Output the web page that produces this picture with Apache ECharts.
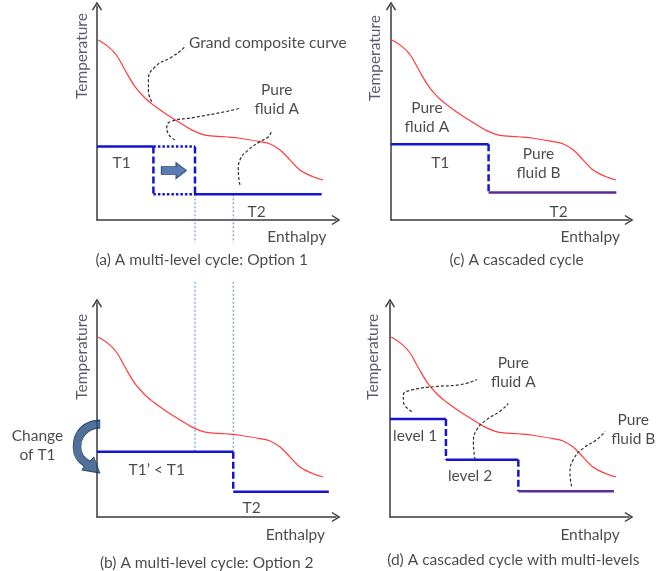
<!DOCTYPE html>
<html>
<head>
<meta charset="utf-8">
<script src="https://cdn.jsdelivr.net/npm/echarts@6/dist/echarts.min.js"></script>
<style>
html, body { margin: 0; padding: 0; background: #fff; }
#chart { width: 670px; height: 571px; }
</style>
</head>
<body>
<div id="chart"></div>
<script>
// Grand composite curve, shared by every panel: [enthalpy %, temperature %]
const gcc = [
  [0.5, 84.1], [4.7, 81.0], [8.1, 77.1], [11.7, 70.1], [15.9, 62.3], [20.1, 57.0],
  [23.6, 53.7], [28.5, 49.8], [34.0, 45.9], [39.6, 42.1], [45.2, 39.7], [53.6, 38.9],
  [59.8, 38.2], [68.2, 36.6], [72.4, 35.5], [76.6, 32.7], [80.8, 28.0], [84.9, 23.4],
  [90.4, 20.2], [94.6, 18.7]
];

// (a) multi-level cycle, option 1
const optA_T1 = [[0, 34.3], [23.6, 34.3]];
const optA_oldStep = [[23.6, 34.3], [23.6, 12.0]];
const optA_boxTop = [[23.6, 34.3], [41.0, 34.3]];
const optA_boxBottom = [[23.6, 12.0], [41.0, 12.0]];
const optA_newStep = [[41.0, 34.3], [41.0, 12.0]];
const optA_T2 = [[41.0, 12.0], [94.0, 12.0]];
const optA_shift = [[32.2, 23.1]];

// (b) multi-level cycle, option 2
const optB_T1 = [[0, 30.5], [57.0, 30.5]];
const optB_step = [[57.0, 30.5], [57.0, 11.8]];
const optB_T2 = [[57.0, 11.8], [97.0, 11.8]];
const optB_turn = [[-4.4, 32.9]];

// guides dropped from (a) to (b): enthalpy positions, and where each piece stops
// around caption (a)
const guideEnthalpy = [41.0, 57.0];
const guideEndA = -10.7;   // temperature units of panel (a)
const guideEndB = 109.8;   // temperature units of panel (b)

// (c) cascaded cycle
const casC_A = [[0, 35.4], [41.0, 35.4]];
const casC_step = [[41.0, 35.4], [41.0, 12.8]];
const casC_B = [[41.0, 12.8], [94.7, 12.8]];

// (d) cascaded cycle with multi-levels
const casD_L1 = [[0, 45.8], [23.4, 45.8]];
const casD_step1 = [[23.4, 45.8], [23.4, 26.8]];
const casD_L2 = [[23.4, 26.8], [53.7, 26.8]];
const casD_step2 = [[53.7, 26.8], [53.7, 12.0]];
const casD_B = [[53.7, 12.0], [93.7, 12.0]];

// leader lines
const leadA1 = [[22.9, 55.3], [21.5, 60.5], [21.5, 65.4], [24.3, 71.6], [31.3, 76.2], [36.1, 80.2], [36.8, 81.8]];
const leadA2 = [[32.6, 37.4], [29.5, 41.0], [29.2, 43.5], [30.8, 46.0], [41.0, 48.0], [53.6, 50.6], [59.8, 52.2]];
const leadA3 = [[59.8, 16.4], [59.1, 23.4], [59.8, 28.0], [63.3, 32.7], [68.2, 36.6], [71.7, 38.9], [73.1, 41.7]];
const leadD1 = [[9.1, 49.3], [5.6, 54.0], [5.6, 57.1], [9.7, 59.5], [19.5, 61.0], [29.3, 61.8], [36.3, 64.2]];
const leadD2 = [[35.6, 26.8], [34.9, 34.6], [36.3, 40.8], [40.5, 45.5], [46.0, 49.4], [49.5, 53.0]];
const leadD3 = [[76.0, 14.3], [75.3, 20.6], [76.7, 26.8], [80.9, 32.2], [86.5, 36.1], [90.0, 40.0]];

// text inside each panel: [enthalpy, temperature, text]
const notesA = [[10.3, 26.6, 'T1'], [66.8, 3.9, 'T2'], [71.5, 82.7, 'Grand composite curve'], [75.2, 56.1, 'Pure\nfluid A']];
const notesB = [[25.0, 22.0, 'T1\u2019 < T1'], [64.7, 4.2, 'T2'], [-24.9, 33.6, 'Change\nof T1']];
const notesC = [[15.1, 48.1, 'Pure\nfluid A'], [20.7, 26.6, 'T1'], [62.0, 26.2, 'Pure\nfluid B'], [70.4, 3.9, 'T2']];
const notesD = [[10.5, 38.0, 'level 1'], [33.5, 19.0, 'level 2'], [51.6, 67.3, 'Pure\nfluid A'], [101.8, 40.8, 'Pure\nfluid B']];

const axisTitleX = 'Enthalpy';
const axisTitleY = 'Temperature';
const captions = [
  [43.8, -18.7, '(a) A multi-level cycle: Option 1'],
  [52.8, -18.7, '(c) A cascaded cycle'],
  [45.9, -21.3, '(b) A multi-level cycle: Option 2'],
  [51.6, -20.3, '(d) A cascaded cycle with multi-levels']
];

// ---- layout & styling ----
const FONT = 'Lato, "Open Sans", sans-serif';
const FS = 15.5;
const TEXT = '#1c1c1c';
const BLUE = '#1414d2';
const PURPLE = '#5b2c9e';
const RED = '#ff3c3c';
const GUIDE = '#4f86d6';
const NAVY = '#264d82';

// panel order: 0 = (a), 1 = (c), 2 = (b), 3 = (d)
const grids = [
  { left: 97, top: 6, width: 239, height: 214 },
  { left: 391, top: 6, width: 238, height: 214 },
  { left: 97, top: 303, width: 239, height: 214 },
  { left: 390, top: 303, width: 239, height: 214 }
];

const chevron = 'path://M5,0 L10,8 L8.8,8.8 L5,2.6 L1.2,8.8 L0,8 Z';

function axes() {
  return grids.map((g, i) => ({
    type: 'value', gridIndex: i, min: 0, max: 100,
    axisLine: { show: true, onZero: false, symbol: ['none', chevron], symbolSize: [11, 9],
      lineStyle: { color: '#3a3a3a', width: 1.5 } },
    axisTick: { show: false }, axisLabel: { show: false }, splitLine: { show: false }
  }));
}

function line(gi, data, color, width, dash, extra) {
  return Object.assign({
    type: 'line', xAxisIndex: gi, yAxisIndex: gi, data: data, symbol: 'none',
    lineStyle: { color: color, width: width, type: dash || 'solid', cap: 'butt' },
    clip: false, silent: true, animation: false, z: 3
  }, extra || {});
}

function labelStyle(extra) {
  return Object.assign({ show: true, position: 'inside', formatter: p => p.name, color: TEXT,
    fontFamily: FONT, fontSize: FS, lineHeight: 19 }, extra || {});
}

function notes(gi, items, extra) {
  return Object.assign({
    type: 'scatter', xAxisIndex: gi, yAxisIndex: gi, symbolSize: 1, clip: false,
    silent: true, animation: false, z: 6,
    itemStyle: { color: 'rgba(0,0,0,0)' },
    data: items.map(d => ({ value: [d[0], d[1]], name: d[2] })),
    label: labelStyle()
  }, extra || {});
}

const series = [];
const dashed = [7, 3];
const dotted = [2.5, 2];
const leader = [3, 2];

// red grand composite curves
for (let i = 0; i < 4; i++) series.push(line(i, gcc, RED, 1.2, 'solid', { smooth: 0.4 }));

// vertical guides between (a) and (b), broken around caption (a)
guideEnthalpy.forEach(x => {
  series.push(line(0, [[x, optA_T2[0][1]], [x, guideEndA]], GUIDE, 1, [2, 2], { z: 2 }));
  series.push(line(2, [[x, optB_T1[0][1]], [x, guideEndB]], GUIDE, 1, [2, 2], { z: 2 }));
});

// (a)
series.push(line(0, optA_T1, BLUE, 2.5));
series.push(line(0, optA_oldStep, BLUE, 2.5, dashed));
series.push(line(0, optA_boxTop, BLUE, 2.5, dotted));
series.push(line(0, optA_boxBottom, BLUE, 2.5, dotted));
series.push(line(0, optA_newStep, BLUE, 2.5, dashed));
series.push(line(0, optA_T2, BLUE, 2.5));
[leadA1, leadA2, leadA3].forEach(l => series.push(line(0, l, '#303030', 1.2, leader, { smooth: 0.5 })));
series.push({
  type: 'scatter', xAxisIndex: 0, yAxisIndex: 0, data: optA_shift, silent: true, animation: false, z: 5,
  symbol: 'path://M0,4 L14,4 L14,0 L24,8 L14,16 L14,12 L0,12 Z', symbolSize: [25, 16],
  itemStyle: { color: '#2f5c9f', borderColor: '#1c355e', borderWidth: 1 }
});

// (b)
series.push(line(2, optB_T1, BLUE, 2.5));
series.push(line(2, optB_step, BLUE, 2.5, dashed));
series.push(line(2, optB_T2, BLUE, 2.5));
series.push({
  type: 'scatter', xAxisIndex: 2, yAxisIndex: 2, data: optB_turn, silent: true, animation: false, z: 5, clip: false,
  symbol: 'path://M30,2 C14,2 3,13 3,29 C3,37 7,44 14,48 L12,52 L30,55 L24,39 L20,43 C14,40 11,35 11,29 C11,18 19,10 30,10 Z',
  symbolSize: [27, 53],
  itemStyle: { color: NAVY, borderColor: '#1a3358', borderWidth: 0.8 }
});

// (c)
series.push(line(1, casC_A, BLUE, 2.5));
series.push(line(1, casC_step, BLUE, 2.5, dashed));
series.push(line(1, casC_B, PURPLE, 2.5));

// (d)
series.push(line(3, casD_L1, BLUE, 2.5));
series.push(line(3, casD_step1, BLUE, 2.5, dashed));
series.push(line(3, casD_L2, BLUE, 2.5));
series.push(line(3, casD_step2, BLUE, 2.5, dashed));
series.push(line(3, casD_B, PURPLE, 2.5));
[leadD1, leadD2, leadD3].forEach(l => series.push(line(3, l, '#303030', 1.2, leader, { smooth: 0.5 })));

// panel text
[notesA, notesC, notesB, notesD].forEach((n, i) => series.push(notes(i, n)));

// axis titles and captions
const yTitlePos = [[-6.4, 76.6], [-6.6, 75.7], [-6.4, 74.9], [-7.0, 74.9]];
const xTitlePos = [[83.6, -7.8], [83.7, -7.8], [83.0, -8.4], [83.7, -8.3]];
for (let i = 0; i < 4; i++) {
  series.push(notes(i, [[yTitlePos[i][0], yTitlePos[i][1], axisTitleY]],
    { label: labelStyle({ rotate: 90, color: '#3a2c4c' }) }));
  series.push(notes(i, [[xTitlePos[i][0], xTitlePos[i][1], axisTitleX]]));
  series.push(notes(i, [captions[i]]));
}

const chart = echarts.init(document.getElementById('chart'), null, { renderer: 'canvas' });
chart.setOption({
  backgroundColor: '#fff',
  animation: false,
  grid: grids,
  xAxis: axes(),
  yAxis: axes(),
  series: series
});
</script>
</body>
</html>
